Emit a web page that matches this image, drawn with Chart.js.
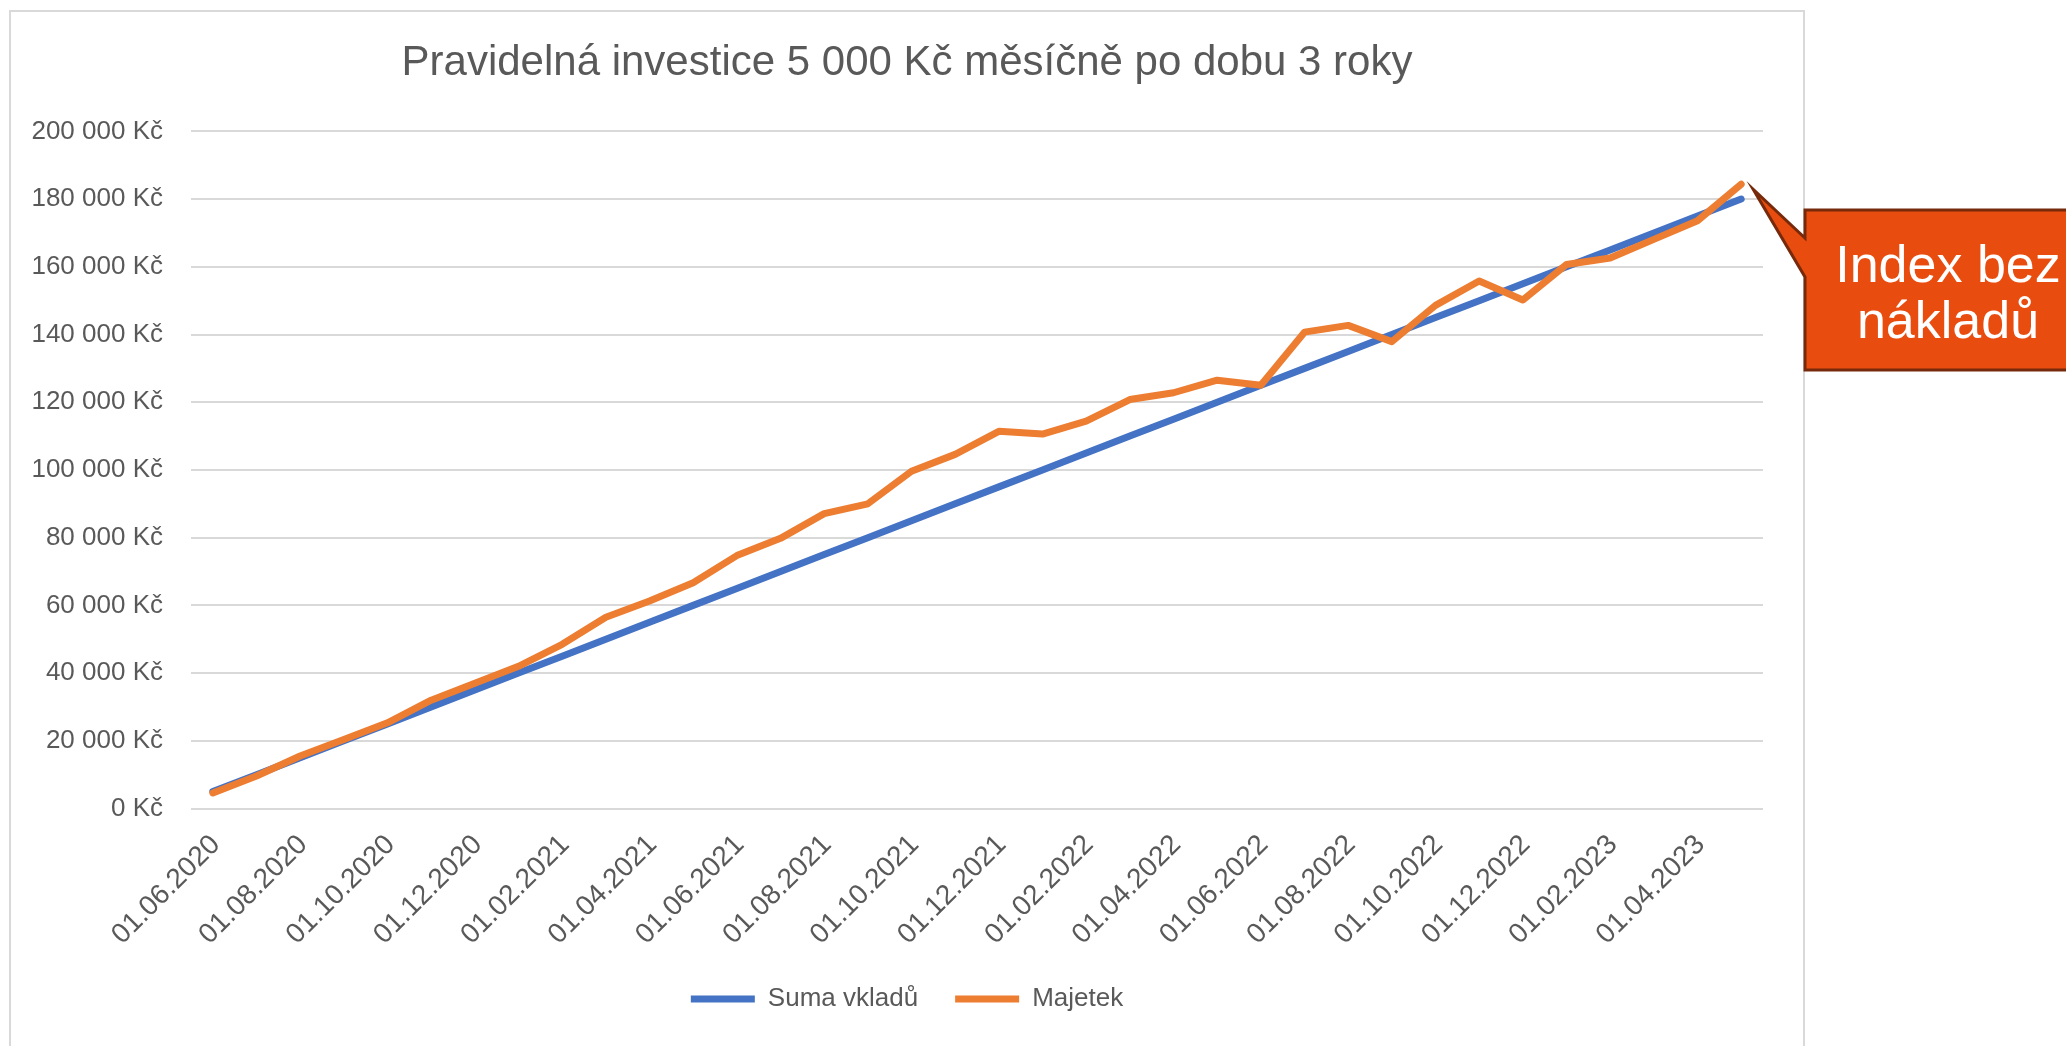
<!DOCTYPE html>
<html lang="cs">
<head>
<meta charset="utf-8">
<title>Pravidelná investice</title>
<script src="https://cdn.jsdelivr.net/npm/chart.js@4.4.1/dist/chart.umd.min.js"></script>
<style>
  html, body { margin: 0; padding: 0; background: #ffffff; overflow: hidden; }
  #wrap { position: relative; width: 2066px; height: 1046px; }
</style>
</head>
<body>
<div id="wrap"><canvas id="c"></canvas></div>
<script>
// ---- data ----
const categories = [
  '01.06.2020','01.07.2020','01.08.2020','01.09.2020','01.10.2020','01.11.2020',
  '01.12.2020','01.01.2021','01.02.2021','01.03.2021','01.04.2021','01.05.2021',
  '01.06.2021','01.07.2021','01.08.2021','01.09.2021','01.10.2021','01.11.2021',
  '01.12.2021','01.01.2022','01.02.2022','01.03.2022','01.04.2022','01.05.2022',
  '01.06.2022','01.07.2022','01.08.2022','01.09.2022','01.10.2022','01.11.2022',
  '01.12.2022','01.01.2023','01.02.2023','01.03.2023','01.04.2023','01.05.2023'
];
const sumaVkladu = [
  5000, 10000, 15000, 20000, 25000, 30000, 35000, 40000, 45000, 50000, 55000, 60000,
  65000, 70000, 75000, 80000, 85000, 90000, 95000, 100000, 105000, 110000, 115000, 120000,
  125000, 130000, 135000, 140000, 145000, 150000, 155000, 160000, 165000, 170000, 175000, 180000
];
const majetek = [
  4600, 9600, 15500, 20400, 25300, 32000, 37000, 42000, 48500, 56500, 61300, 66700,
  74700, 79800, 87100, 90000, 99600, 104600, 111400, 110600, 114400, 120800, 122800, 126500,
  125000, 140700, 142700, 137900, 148600, 155800, 150200, 160700, 162600, 168100, 173600, 184400
];
const yTicks = [0, 20000, 40000, 60000, 80000, 100000, 120000, 140000, 160000, 180000, 200000];
const seriesNames = ['Suma vkladů', 'Majetek'];
const chartTitle = 'Pravidelná investice 5 000 Kč měsíčně po dobu 3 roky';
const calloutLines = ['Index bez', 'nákladů'];

// ---- style ----
const FONT = "'Liberation Sans', Arial, sans-serif";
const TEXT = '#595959';
const BLUE = '#4472C4';
const ORANGE = '#ED7D31';

function fmtKc(v) {
  return String(v).replace(/\B(?=(\d{3})+(?!\d))/g, ' ') + ' Kč';
}

const decorations = {
  id: 'decorations',
  beforeDraw(chart) {
    const ctx = chart.ctx;
    ctx.save();
    ctx.fillStyle = '#ffffff';
    ctx.fillRect(0, 0, chart.width, chart.height);
    ctx.strokeStyle = '#d9d9d9';
    ctx.lineWidth = 2;
    ctx.strokeRect(10, 11, 1794, 1100);
    ctx.restore();
  },
  afterDraw(chart) {
    const ctx = chart.ctx;
    const xs = chart.scales.x, ys = chart.scales.y;
    const last = majetek.length - 1;
    const tipX = xs.getPixelForValue(last) + 12;
    const tipY = ys.getPixelForValue(majetek[last]) + 5;
    const L = 1805, T = 210, B = 370, R = 2100;
    ctx.save();
    ctx.beginPath();
    ctx.moveTo(L, T);
    ctx.lineTo(R, T);
    ctx.lineTo(R, B);
    ctx.lineTo(L, B);
    ctx.lineTo(L, 277);
    ctx.lineTo(tipX, tipY);
    ctx.lineTo(L, 238);
    ctx.closePath();
    ctx.fillStyle = '#E84C0E';
    ctx.fill();
    ctx.lineWidth = 3;
    ctx.lineJoin = 'miter';
    ctx.strokeStyle = '#772A0B';
    ctx.stroke();
    ctx.fillStyle = '#ffffff';
    ctx.font = '52px ' + FONT;
    ctx.textAlign = 'center';
    ctx.textBaseline = 'alphabetic';
    ctx.fillText(calloutLines[0], 1948, 282);
    ctx.fillText(calloutLines[1], 1948, 338);
    ctx.restore();
  }
};

Chart.defaults.font.family = FONT;
Chart.defaults.font.size = 26;
Chart.defaults.color = TEXT;

new Chart(document.getElementById('c'), {
  type: 'line',
  data: {
    labels: categories,
    datasets: [
      {
        label: seriesNames[0], data: sumaVkladu, order: 1,
        borderColor: BLUE, backgroundColor: BLUE, borderWidth: 7,
        borderCapStyle: 'round', borderJoinStyle: 'round',
        pointRadius: 0, pointHoverRadius: 0, tension: 0, fill: false
      },
      {
        label: seriesNames[1], data: majetek, order: 0,
        borderColor: ORANGE, backgroundColor: ORANGE, borderWidth: 7,
        borderCapStyle: 'round', borderJoinStyle: 'round',
        pointRadius: 0, pointHoverRadius: 0, tension: 0, fill: false
      }
    ]
  },
  options: {
    responsive: true,
    maintainAspectRatio: false,
    devicePixelRatio: 1,
    animation: false,
    events: [],
    layout: { padding: { left: 10, right: 262, top: 0, bottom: 24 } },
    scales: {
      x: {
        type: 'category',
        offset: true,
        grid: { display: false, drawTicks: false },
        border: { display: false },
        ticks: {
          autoSkip: false, maxRotation: 45, minRotation: 45,
          padding: 20, labelOffset: 3,
          color: TEXT, font: { size: 28 },
          callback: function (val, idx) { return idx % 2 === 0 ? categories[idx] : ''; }
        },
        afterFit(scale) { scale.height = 140.5; }
      },
      y: {
        type: 'linear', position: 'left',
        min: 0, max: 200000,
        afterBuildTicks(scale) { scale.ticks = yTicks.map(v => ({ value: v })); },
        grid: { color: '#d9d9d9', lineWidth: 2, drawTicks: false },
        border: { display: false },
        ticks: {
          padding: 28, color: TEXT, font: { size: 26 },
          callback: (v) => fmtKc(v)
        },
        afterFit(scale) { scale.width = 181; }
      },
      y2: {
        type: 'linear', position: 'right', display: true,
        grid: { display: false, drawTicks: false },
        border: { display: false },
        ticks: { display: false },
        afterFit(scale) { scale.width = 41; }
      }
    },
    plugins: {
      title: {
        display: true, text: chartTitle, color: TEXT,
        font: { size: 42, weight: 'normal' },
        padding: { top: 38, bottom: 43 }
      },
      legend: {
        display: true, position: 'bottom', align: 'center',
        maxHeight: 97,
        labels: {
          usePointStyle: true, pointStyle: 'line', pointStyleWidth: 64,
          padding: 37, color: TEXT, font: { size: 26 },
          sort: (a, b) => a.datasetIndex - b.datasetIndex
        }
      },
      tooltip: { enabled: false }
    }
  },
  plugins: [decorations]
});
</script>
</body>
</html>
